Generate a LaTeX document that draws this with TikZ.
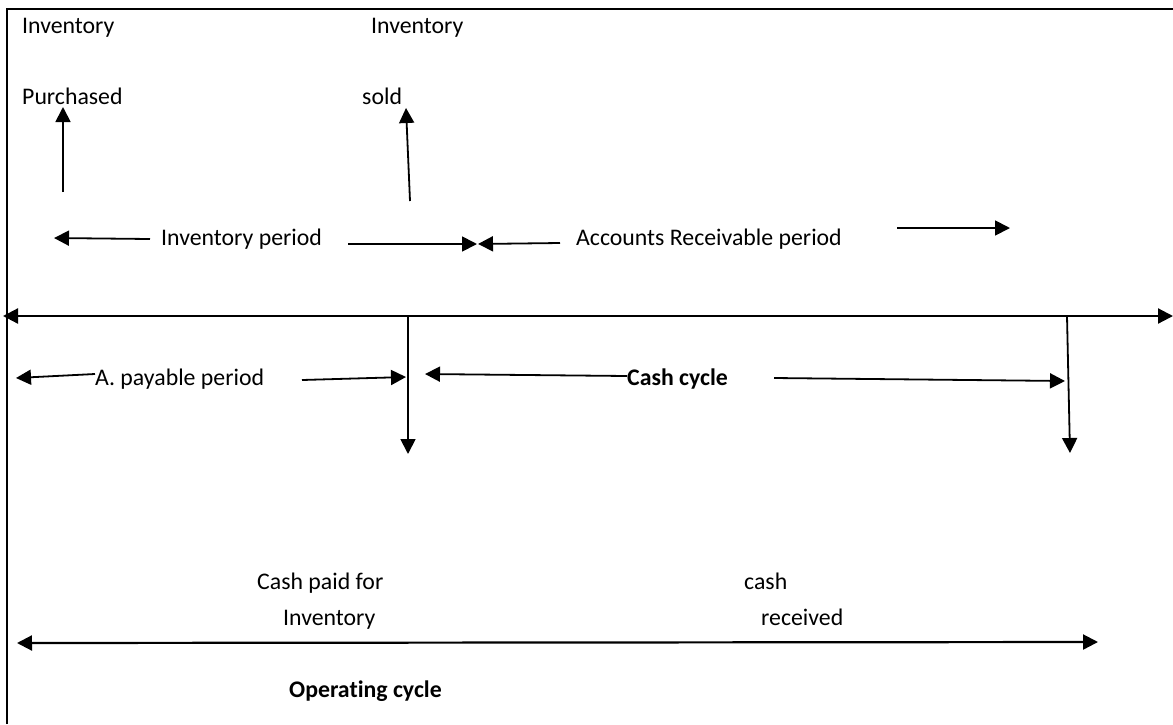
\documentclass[tikz,border=0pt]{standalone}
\usepackage{fontspec}
\setmainfont{Carlito}[Ligatures={NoCommon}]
\usetikzlibrary{arrows.meta}
\begin{document}
\begin{tikzpicture}[x=1pt,y=-1pt,
  lbl/.style={anchor=base west, inner sep=0pt, font=\fontsize{23.8}{28}\selectfont},
  tip/.tip={Triangle[length=15pt,width=15pt]},
  arr/.style={line width=1.8pt, -tip},
  darr/.style={line width=2.2pt, tip-tip},
  frame/.style={line width=2.4pt}]
\useasboundingbox (0,0) rectangle (1173,724);
% frame
\coordinate (fb) at (7,724);
\coordinate (fc) at (7,9);
\coordinate (fr) at (1173,9);
\draw[frame] (fb) -- (fc) -- (fr);
% texts
\node[lbl] (t1) at (22,33) {Inventory};
\node[lbl] (t2) at (22,104) {Purchased};
\node[lbl] (t3) at (371,33) {Inventory};
\node[lbl] (t4) at (362,104) {sold};
\node[lbl] (t5) at (161,245) {Inventory period};
\node[lbl] (t6) at (576,245) {Accounts Receivable period};
\node[lbl] (t7) at (95,385) {A. payable period};
\node[lbl] (t8) at (627,385) {\textbf{Cash cycle}};
\node[lbl] (t9) at (257,589) {Cash paid for};
\node[lbl] (t10) at (744,589) {cash};
\node[lbl] (t11) at (283,625) {Inventory};
\node[lbl] (t12) at (761,625) {received};
\node[lbl] (t13) at (289,697) {\textbf{Operating cycle}};
% coordinates
\coordinate (a1s) at (63,192);  \coordinate (a1e) at (63,107);
\coordinate (a2s) at (410,201); \coordinate (a2e) at (406,108);
\coordinate (a3s) at (150,239); \coordinate (a3e) at (54,238);
\coordinate (a4s) at (348,244); \coordinate (a4e) at (477,244);
\coordinate (a5s) at (560,243); \coordinate (a5e) at (478,244);
\coordinate (a6s) at (897,228); \coordinate (a6e) at (1010,228);
\coordinate (ml) at (3,316);    \coordinate (mr) at (1173,316);
\coordinate (v1s) at (408,316); \coordinate (v1e) at (408,454);
\coordinate (v2s) at (1067,316); \coordinate (v2e) at (1070,453);
\coordinate (a7s) at (95,374);  \coordinate (a7e) at (16,378);
\coordinate (a8s) at (302,380); \coordinate (a8e) at (406,377);
\coordinate (a9s) at (627,376); \coordinate (a9e) at (425,374);
\coordinate (a10s) at (774,378); \coordinate (a10e) at (1065,381);
\coordinate (bl) at (17,643);   \coordinate (br) at (1098,642);
% arrows
\draw[arr] (a1s) -- (a1e);
\draw[arr] (a2s) -- (a2e);
\draw[arr] (a3s) -- (a3e);
\draw[arr] (a4s) -- (a4e);
\draw[arr] (a5s) -- (a5e);
\draw[arr] (a6s) -- (a6e);
\draw[darr] (ml) -- (mr);
\draw[arr] (v1s) -- (v1e);
\draw[arr] (v2s) -- (v2e);
\draw[arr] (a7s) -- (a7e);
\draw[arr] (a8s) -- (a8e);
\draw[arr] (a9s) -- (a9e);
\draw[arr] (a10s) -- (a10e);
\draw[darr] (bl) -- (br);
\end{tikzpicture}
\end{document}
